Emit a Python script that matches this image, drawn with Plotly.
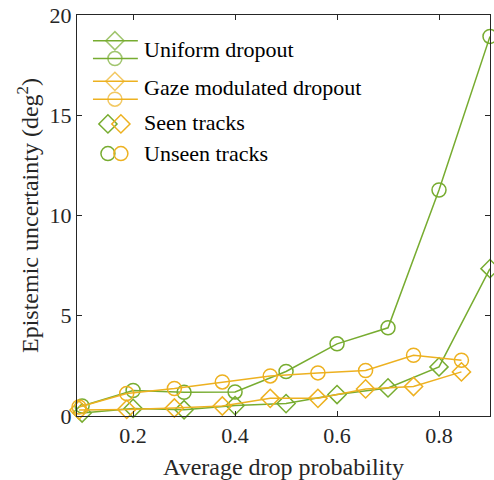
import plotly.graph_objects as go

# Data
uni_x = [0.1, 0.2, 0.3, 0.4, 0.5, 0.6, 0.7, 0.8, 0.9]
uni_seen = [0.15, 0.38, 0.31, 0.52, 0.62, 1.07, 1.4, 2.45, 7.35]
uni_unseen = [0.5, 1.27, 1.18, 1.2, 2.22, 3.6, 4.4, 11.27, 18.93]
gaze_x = [0.094, 0.1875, 0.281, 0.375, 0.469, 0.5625, 0.656, 0.75, 0.844]
gaze_seen = [0.3, 0.33, 0.4, 0.5, 0.88, 0.88, 1.35, 1.47, 2.2]
gaze_unseen = [0.45, 1.12, 1.37, 1.7, 2.0, 2.15, 2.27, 3.03, 2.78]
x_ticks = [0.2, 0.4, 0.6, 0.8]
y_ticks = [0, 5, 10, 15, 20]

GREEN = "#77AC30"
ORANGE = "#EDB120"
AX = "#262626"
FONT = "Liberation Serif"

fig = go.Figure()

def add(x, y, color, sym):
    fig.add_trace(go.Scatter(
        x=x, y=y, mode="lines+markers",
        line=dict(color=color, width=1.5),
        marker=dict(symbol=sym, size=14, color=color,
                    line=dict(color=color, width=1.5)),
        showlegend=False, cliponaxis=False))

add(uni_x, uni_unseen, GREEN, "circle-open")
add(uni_x, uni_seen, GREEN, "diamond-open")
add(gaze_x, gaze_unseen, ORANGE, "circle-open")
add(gaze_x, gaze_seen, ORANGE, "diamond-open")

# Legend drawn on an overlay axis in pixel units of the plot area
L = 77; R = 491; T = 13; B = 418

def glyph_line(y, color, sym):
    fig.add_trace(go.Scatter(
        x=[93, 115, 138], y=[y, y, y], mode="lines+markers",
        line=dict(color=color, width=1.5),
        marker=dict(symbol=sym, size=[0, 14, 0], color=color,
                    line=dict(color=color, width=1.5)),
        xaxis="x2", yaxis="y2", showlegend=False, hoverinfo="skip"))

def glyph_pts(y, sym):
    fig.add_trace(go.Scatter(
        x=[108, 121], y=[y, y], mode="markers",
        marker=dict(symbol=sym, size=14, color=[GREEN, ORANGE],
                    line=dict(color=[GREEN, ORANGE], width=1.5)),
        xaxis="x2", yaxis="y2", showlegend=False, hoverinfo="skip"))

glyph_line(39, GREEN, "diamond-open")
glyph_line(57, GREEN, "circle-open")
glyph_line(80, ORANGE, "diamond-open")
glyph_line(98, ORANGE, "circle-open")
glyph_pts(123, "diamond-open")
glyph_pts(153, "circle-open")

labels = [("Uniform dropout", 48), ("Gaze modulated dropout", 86),
          ("Seen tracks", 122), ("Unseen tracks", 153)]
for txt, y in labels:
    fig.add_annotation(x=142, y=y, xref="x2", yref="y2", text=txt,
                       showarrow=False, xanchor="left", yanchor="middle",
                       font=dict(family=FONT, size=22, color="black"))

fig.update_layout(
    width=494, height=480,
    margin=dict(l=L, r=494 - R, t=T, b=480 - B),
    paper_bgcolor="white", plot_bgcolor="white",
    font=dict(family=FONT, size=22, color=AX),
    xaxis=dict(range=[0.09, 0.9], tickvals=x_ticks, ticktext=[str(v) for v in x_ticks],
               ticks="inside", ticklen=5, tickcolor=AX, showline=True, linecolor=AX,
               linewidth=1, mirror="allticks", showgrid=False, zeroline=False,
               title=dict(text="Average drop probability", font=dict(size=24), standoff=12)),
    yaxis=dict(range=[0, 20], tickvals=y_ticks, ticks="inside", ticklen=5, tickcolor=AX,
               showline=True, linecolor=AX, linewidth=1, mirror="allticks",
               showgrid=False, zeroline=False,
               title=dict(text="Epistemic uncertainty (deg<sup>2</sup>)", font=dict(size=24), standoff=4)),
    xaxis2=dict(range=[L, R], overlaying="x", visible=False, fixedrange=True),
    yaxis2=dict(range=[B, T], overlaying="y", visible=False, fixedrange=True),
)

fig.write_html("out.html", config={"displayModeBar": False},
               post_script="document.body.style.margin='0';")
